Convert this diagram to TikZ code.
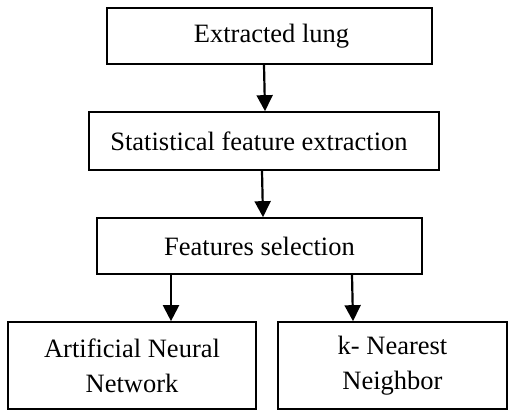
\documentclass[tikz,border=0pt]{standalone}
\usepackage{fontspec}
\setmainfont{Liberation Serif}
\usetikzlibrary{arrows.meta}
\begin{document}
\begin{tikzpicture}[x=1pt,y=-1pt,
  box/.style n args={2}{draw, line width=1.7pt, inner sep=0pt, minimum width=#1, minimum height=#2, align=center,
    font=\fontsize{26.5pt}{35pt}\selectfont},
  arr/.style={line width=2.2pt, -{Triangle[width=16pt,length=16pt]}}]
\useasboundingbox (0,0) rectangle (508,410);
\node[box={325pt}{56pt}] (b1) at (269.5,36) {\hspace*{4pt}Extracted lung};
\node[box={350pt}{58pt}] (b2) at (264,141) {Statistical feature extraction\hspace*{10pt}};
\node[box={325pt}{56pt}] (b3) at (259.5,246) {Features selection};
\node[box={248pt}{87pt}] (b4) at (132,365.5) {Artificial Neural\\Network};
\node[box={229pt}{87pt}] (b5) at (392.5,365.5) {k- Nearest\\Neighbor};
\draw[arr] ([xshift=-5.5pt]b1.south) -- ([xshift=1pt]b2.north);
\draw[arr] ([xshift=-2pt]b2.south) -- ([xshift=3.5pt]b3.north);
\draw[arr] ([xshift=-88.5pt]b3.south) -- ([xshift=39pt]b4.north);
\draw[arr] ([xshift=92.5pt]b3.south) -- ([xshift=-39.5pt]b5.north);
\end{tikzpicture}
\end{document}
